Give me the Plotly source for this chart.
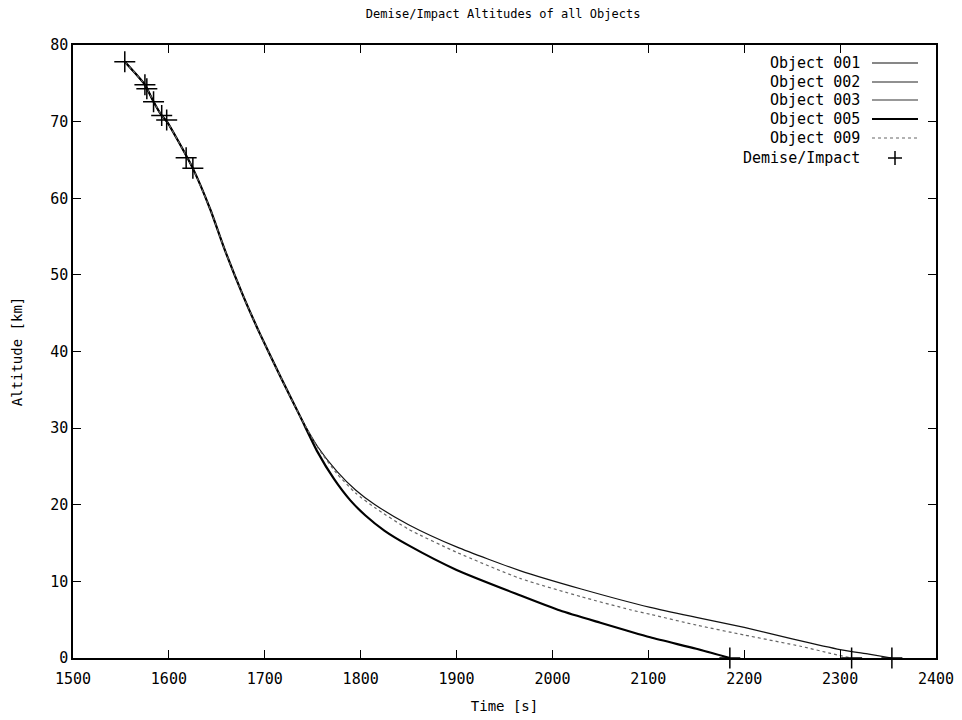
import plotly.graph_objects as go

# ---- data ----
common_t = [1554, 1575, 1584, 1592.5, 1598, 1610, 1625, 1643, 1658.5, 1678, 1695, 1716, 1737]
common_alt = [77.8, 74.8, 72.6, 70.8, 70.0, 67.4, 63.9, 58.6, 53.2, 47.1, 42.3, 36.8, 31.5]

obj001_tail_t = [1755, 1775, 1795, 1815, 1850, 1900, 1966, 2030, 2102, 2150, 2200, 2250, 2300, 2330, 2354]
obj001_tail_alt = [27.6, 24.4, 21.9, 20.0, 17.4, 14.5, 11.4, 9.0, 6.6, 5.3, 4.0, 2.5, 1.1, 0.5, 0.0]

obj002_t = [1554, 1575, 1584, 1592.5, 1598]
obj002_alt = [77.8, 74.8, 72.6, 70.8, 70.0]

obj003_t = [1554, 1575, 1584, 1592.5, 1598, 1610, 1625]
obj003_alt = [77.8, 74.8, 72.6, 70.8, 70.0, 67.4, 63.9]

obj005_tail_t = [1755, 1772, 1789, 1805, 1825, 1850, 1900, 1966, 2008, 2050, 2102, 2150, 2185]
obj005_tail_alt = [26.9, 23.4, 20.6, 18.6, 16.6, 14.7, 11.5, 8.2, 6.2, 4.6, 2.7, 1.2, 0.0]

obj009_tail_t = [1755, 1775, 1795, 1815, 1850, 1900, 1966, 2030, 2081, 2102, 2150, 2200, 2260, 2290, 2312]
obj009_tail_alt = [27.5, 24.1, 21.5, 19.6, 16.8, 13.8, 10.4, 8.0, 6.3, 5.7, 4.3, 3.0, 1.5, 0.6, 0.0]

demise_t = [1554, 1575, 1577, 1584, 1592.5, 1597.7, 1618, 1625, 2185, 2312, 2354]
demise_alt = [77.8, 74.8, 74.3, 72.6, 70.8, 70.2, 65.3, 63.9, 0.0, 0.0, 0.0]

names = ["Object 001", "Object 002", "Object 003", "Object 005", "Object 009"]
x_ticks = [1500, 1600, 1700, 1800, 1900, 2000, 2100, 2200, 2300, 2400]
y_ticks = [0, 10, 20, 30, 40, 50, 60, 70, 80]

series = {
    "Object 001": (common_t + obj001_tail_t, common_alt + obj001_tail_alt),
    "Object 002": (obj002_t, obj002_alt),
    "Object 003": (obj003_t, obj003_alt),
    "Object 005": (common_t + obj005_tail_t, common_alt + obj005_tail_alt),
    "Object 009": (common_t + obj009_tail_t, common_alt + obj009_tail_alt),
}
styles = {
    "Object 001": dict(color="#111111", width=1.2, dash="solid"),
    "Object 002": dict(color="#222222", width=1.2, dash="solid"),
    "Object 003": dict(color="#333333", width=1.2, dash="solid"),
    "Object 005": dict(color="#000000", width=2.2, dash="solid"),
    "Object 009": dict(color="#666666", width=1.2, dash="dot"),
}

FONT = "DejaVu Sans Mono"

fig = go.Figure()
for nm in names:
    t, a = series[nm]
    fig.add_trace(go.Scatter(x=t, y=a, mode="lines", name=nm,
                             line=dict(shape="spline", smoothing=0.6, **styles[nm]),
                             showlegend=False))
fig.add_trace(go.Scatter(x=demise_t, y=demise_alt, mode="markers", name="Demise/Impact",
                         marker=dict(symbol="cross-thin", size=15,
                                     line=dict(color="black", width=1.5)),
                         showlegend=False, cliponaxis=False))

# custom gnuplot-like legend (text right, sample on the right)
leg_labels = names + ["Demise/Impact"]
row_y = [63, 82, 100, 119, 138, 158]
annotations = []
shapes = []
for i, lab in enumerate(leg_labels):
    yp = 1 - (row_y[i] - 45) / (658 - 45)
    annotations.append(dict(text=lab, x=(862 - 73) / (936 - 73), y=yp, xref="paper", yref="paper",
                            xanchor="right", yanchor="middle", showarrow=False,
                            font=dict(family=FONT, size=15, color="black")))
    if i < len(names):
        st = styles[lab]
        shapes.append(dict(type="line", xref="paper", yref="paper",
                           x0=(872 - 73) / 863, x1=(918 - 73) / 863, y0=yp, y1=yp,
                           line=dict(color=st["color"], width=st["width"], dash=st["dash"])))
    else:
        xc = (895 - 73) / 863
        shapes.append(dict(type="line", xref="paper", yref="paper",
                           x0=xc - 7 / 863, x1=xc + 7 / 863, y0=yp, y1=yp,
                           line=dict(color="black", width=1.5)))
        shapes.append(dict(type="line", xref="paper", yref="paper",
                           x0=xc, x1=xc, y0=yp - 7 / 613, y1=yp + 7 / 613,
                           line=dict(color="black", width=1.5)))

fig.update_layout(
    width=962, height=720,
    margin=dict(l=73, r=26, t=45, b=62),
    paper_bgcolor="white", plot_bgcolor="white",
    font=dict(family=FONT, size=14, color="black"),
    title=dict(text="Demise/Impact Altitudes of all Objects", x=0.523, xanchor="center",
               y=1 - 14 / 720, yanchor="middle", font=dict(family=FONT, size=12)),
    annotations=annotations,
    shapes=shapes,
)
fig.update_xaxes(range=[1500, 2400], tickvals=x_ticks, ticktext=[str(v) for v in x_ticks],
                 showgrid=False, zeroline=False, showline=True, linecolor="black", linewidth=1.5,
                 mirror="allticks", ticks="inside", ticklen=8, tickcolor="black",
                 ticklabelstandoff=6, automargin=False,
                 title=dict(text="Time [s]", font=dict(family=FONT, size=14), standoff=14),
                 tickfont=dict(family=FONT, size=15))
fig.update_yaxes(range=[0, 80], tickvals=y_ticks, ticktext=[str(v) for v in y_ticks],
                 showgrid=False, zeroline=False, showline=True, linecolor="black", linewidth=1.5,
                 mirror="allticks", ticks="inside", ticklen=8, tickcolor="black",
                 automargin=False,
                 title=dict(text="Altitude [km]", font=dict(family=FONT, size=14), standoff=24),
                 tickfont=dict(family=FONT, size=15))

fig.write_html("out.html")
